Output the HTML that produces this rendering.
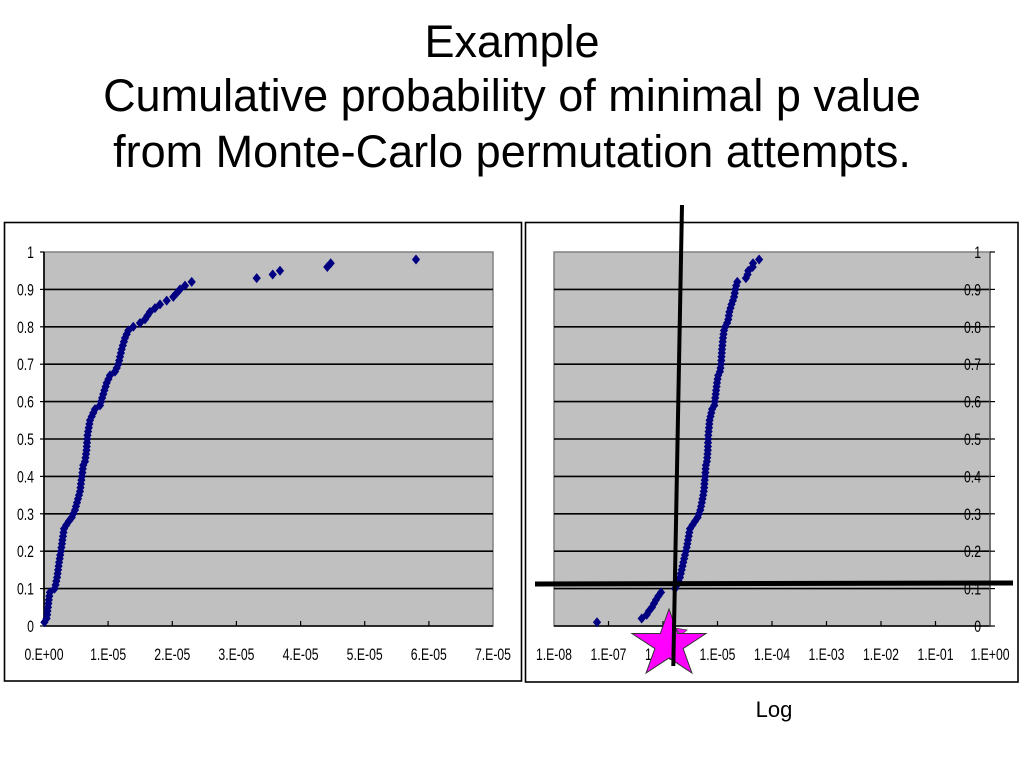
<!DOCTYPE html>
<html>
<head>
<meta charset="utf-8">
<style>
html,body{margin:0;padding:0;background:#fff;}
svg{display:block;}
</style>
</head>
<body>
<svg width="1024" height="768" viewBox="0 0 1024 768" xmlns="http://www.w3.org/2000/svg">
<defs>
<marker id="d" markerUnits="userSpaceOnUse" markerWidth="9" markerHeight="10" refX="4" refY="4.5" viewBox="0 0 8 9" overflow="visible">
<path d="M4,0 L7.7,4.5 L4,9 L0.3,4.5Z" fill="#000080"/>
</marker>
</defs>
<rect width="1024" height="768" fill="#fff"/>

<!-- Title -->
<g font-family="Liberation Sans, Arial, sans-serif" font-size="45" fill="#000" text-anchor="middle">
<text x="512" y="57">Example</text>
<text x="512" y="111">Cumulative probability of minimal p value</text>
<text x="512" y="167">from Monte-Carlo permutation attempts.</text>
</g>

<!-- LEFT CHART -->
<rect x="4.5" y="222.5" width="517" height="458.5" fill="#fff" stroke="#000" stroke-width="1.6"/>
<rect x="44" y="252" width="449" height="374" fill="#c0c0c0" stroke="#808080" stroke-width="1.5"/>
<g stroke="#000" stroke-width="1.6">
<line x1="44" y1="289.4" x2="493" y2="289.4"/>
<line x1="44" y1="326.8" x2="493" y2="326.8"/>
<line x1="44" y1="364.2" x2="493" y2="364.2"/>
<line x1="44" y1="401.6" x2="493" y2="401.6"/>
<line x1="44" y1="439" x2="493" y2="439"/>
<line x1="44" y1="476.4" x2="493" y2="476.4"/>
<line x1="44" y1="513.8" x2="493" y2="513.8"/>
<line x1="44" y1="551.2" x2="493" y2="551.2"/>
<line x1="44" y1="588.6" x2="493" y2="588.6"/>
<line x1="44" y1="626" x2="493" y2="626"/>
<line x1="44" y1="252" x2="44" y2="626"/>
</g>
<g stroke="#000" stroke-width="1.2">
<line x1="40" y1="252" x2="44" y2="252"/>
<line x1="40" y1="289.4" x2="44" y2="289.4"/>
<line x1="40" y1="326.8" x2="44" y2="326.8"/>
<line x1="40" y1="364.2" x2="44" y2="364.2"/>
<line x1="40" y1="401.6" x2="44" y2="401.6"/>
<line x1="40" y1="439" x2="44" y2="439"/>
<line x1="40" y1="476.4" x2="44" y2="476.4"/>
<line x1="40" y1="513.8" x2="44" y2="513.8"/>
<line x1="40" y1="551.2" x2="44" y2="551.2"/>
<line x1="40" y1="588.6" x2="44" y2="588.6"/>
<line x1="40" y1="626" x2="44" y2="626"/>
<line x1="108.1" y1="621" x2="108.1" y2="626"/>
<line x1="172.3" y1="621" x2="172.3" y2="626"/>
<line x1="236.4" y1="621" x2="236.4" y2="626"/>
<line x1="300.6" y1="621" x2="300.6" y2="626"/>
<line x1="364.7" y1="621" x2="364.7" y2="626"/>
<line x1="428.9" y1="621" x2="428.9" y2="626"/>
</g>
<g transform="scale(0.72 1)" font-family="Liberation Sans, Arial, sans-serif" font-size="17" fill="#000">
<g text-anchor="end">
<text x="47.2" y="258">1</text>
<text x="47.2" y="295.4">0.9</text>
<text x="47.2" y="332.8">0.8</text>
<text x="47.2" y="370.2">0.7</text>
<text x="47.2" y="407.6">0.6</text>
<text x="47.2" y="445">0.5</text>
<text x="47.2" y="482.4">0.4</text>
<text x="47.2" y="519.8">0.3</text>
<text x="47.2" y="557.2">0.2</text>
<text x="47.2" y="594.6">0.1</text>
<text x="47.2" y="632">0</text>
</g>
<g text-anchor="middle">
<text x="61.1" y="660">0.E+00</text>
<text x="150.2" y="660">1.E-05</text>
<text x="239.3" y="660">2.E-05</text>
<text x="328.4" y="660">3.E-05</text>
<text x="417.5" y="660">4.E-05</text>
<text x="506.5" y="660">5.E-05</text>
<text x="595.6" y="660">6.E-05</text>
<text x="684.7" y="660">7.E-05</text>
</g>
</g>
<polyline fill="none" stroke="none" marker-start="url(#d)" marker-mid="url(#d)" marker-end="url(#d)" points="
44.4,622.26 46.6,618.52 47.2,614.78 47.5,611.04 48.0,607.3 48.4,603.56 48.8,599.82 49.3,596.08 49.9,592.34 54.6,588.6
55.6,584.86 56.3,581.12 57.1,577.38 57.6,573.64 58.1,569.9 58.6,566.16 59.1,562.42 59.7,558.68 60.2,554.94 60.9,551.2
61.4,547.46 62.0,543.72 62.4,539.98 63.0,536.24 63.5,532.5 64.0,528.76 66.3,525.02 68.8,521.28 71.7,517.54 73.35,513.8
75,510.06 76,506.32 77,502.58 78,498.84 79,495.1 80,491.36 80.5,487.62 80.9,483.88 81.4,480.14 81.9,476.4
82.4,472.66 82.8,468.92 83.3,465.18 85,461.44 85.5,457.7 86,453.96 86.5,450.22 86.75,446.48 87,442.74 87.25,439
87.5,435.26 88.1,431.52 88.75,427.78 89.4,424.04 90,420.3 91.7,416.56 93.3,412.82 95,409.08 100,405.34 101.1,401.6
102.2,397.86 103.3,394.12 104.4,390.38 105.6,386.64 106.7,382.9 108.4,379.16 110,375.42 115,371.68 116.7,367.94 118.3,364.2
119.2,360.46 120,356.72 120.9,352.98 121.7,349.24 122.8,345.5 123.9,341.76 125,338.02 126.7,334.28 128.3,330.54 133.3,326.8
140,323.06 145,319.32 147.5,315.58 150,311.84 155,308.1 160,304.36 166.7,300.62 173.3,296.88 176.7,293.14 180,289.4
185,285.66 191.7,281.92 256.7,278.18 272.7,274.44 280,270.7 327.3,266.96 330.7,263.22 416,259.48"/>

<!-- RIGHT CHART -->
<rect x="525.5" y="222.5" width="492.5" height="459.5" fill="#fff" stroke="#000" stroke-width="1.6"/>
<rect x="554" y="252" width="436" height="374" fill="#c0c0c0" stroke="#808080" stroke-width="1.5"/>
<g transform="scale(0.72 1)" font-family="Liberation Sans, Arial, sans-serif" font-size="17" fill="#000">
<g text-anchor="end">
<text x="1362.5" y="258">1</text>
<text x="1362.5" y="295.4">0.9</text>
<text x="1362.5" y="332.8">0.8</text>
<text x="1362.5" y="370.2">0.7</text>
<text x="1362.5" y="407.6">0.6</text>
<text x="1362.5" y="445">0.5</text>
<text x="1362.5" y="482.4">0.4</text>
<text x="1362.5" y="519.8">0.3</text>
<text x="1362.5" y="557.2">0.2</text>
<text x="1362.5" y="594.6">0.1</text>
<text x="1362.5" y="632">0</text>
</g>
<g text-anchor="middle">
<text x="769.4" y="660">1.E-08</text>
<text x="845.1" y="660">1.E-07</text>
<text x="920.8" y="660">1.E-06</text>
<text x="996.5" y="660">1.E-05</text>
<text x="1072.2" y="660">1.E-04</text>
<text x="1147.9" y="660">1.E-03</text>
<text x="1223.6" y="660">1.E-02</text>
<text x="1299.3" y="660">1.E-01</text>
<text x="1375" y="660">1.E+00</text>
</g>
</g>
<g stroke="#000" stroke-width="1.6">
<line x1="554" y1="289.4" x2="990" y2="289.4"/>
<line x1="554" y1="326.8" x2="990" y2="326.8"/>
<line x1="554" y1="364.2" x2="990" y2="364.2"/>
<line x1="554" y1="401.6" x2="990" y2="401.6"/>
<line x1="554" y1="439" x2="990" y2="439"/>
<line x1="554" y1="476.4" x2="990" y2="476.4"/>
<line x1="554" y1="513.8" x2="990" y2="513.8"/>
<line x1="554" y1="551.2" x2="990" y2="551.2"/>
<line x1="554" y1="588.6" x2="990" y2="588.6"/>
<line x1="554" y1="626" x2="990" y2="626"/>
</g>
<line x1="990" y1="252" x2="990" y2="626" stroke="#606060" stroke-width="1.5"/>
<g stroke="#000" stroke-width="1.2">
<line x1="990" y1="252" x2="995" y2="252"/>
<line x1="990" y1="289.4" x2="995" y2="289.4"/>
<line x1="990" y1="326.8" x2="995" y2="326.8"/>
<line x1="990" y1="364.2" x2="995" y2="364.2"/>
<line x1="990" y1="401.6" x2="995" y2="401.6"/>
<line x1="990" y1="439" x2="995" y2="439"/>
<line x1="990" y1="476.4" x2="995" y2="476.4"/>
<line x1="990" y1="513.8" x2="995" y2="513.8"/>
<line x1="990" y1="551.2" x2="995" y2="551.2"/>
<line x1="990" y1="588.6" x2="995" y2="588.6"/>
<line x1="990" y1="626" x2="995" y2="626"/>
<line x1="608.5" y1="621" x2="608.5" y2="626"/>
<line x1="663" y1="621" x2="663" y2="626"/>
<line x1="717.5" y1="621" x2="717.5" y2="626"/>
<line x1="772" y1="621" x2="772" y2="626"/>
<line x1="826.5" y1="621" x2="826.5" y2="626"/>
<line x1="881" y1="621" x2="881" y2="626"/>
<line x1="935.5" y1="621" x2="935.5" y2="626"/>
</g>
<polyline fill="none" stroke="none" marker-start="url(#d)" marker-mid="url(#d)" marker-end="url(#d)" points="
597,622.26 641.7,618.52 646.7,614.78 649,611.04 652,607.3 654,603.56 656,599.82 658.3,596.08 661,592.34 675,588.6
677,584.86 678.5,581.12 680,577.38 680.8,573.64 681.7,569.9 682.5,566.16 683.3,562.42 684.2,558.68 685,554.94 685.9,551.2
686.7,547.46 687.4,543.72 688,539.98 688.7,536.24 689.3,532.5 690,528.76 692.5,525.02 695,521.28 697.6,517.54 699.0,513.8
700.3,510.06 701.1,506.32 701.8,502.58 702.5,498.84 703.2,495.1 703.8,491.36 704.2,487.62 704.4,483.88 704.7,480.14 705.1,476.4
705.4,472.66 705.6,468.92 705.9,465.18 706.9,461.44 707.2,457.7 707.5,453.96 707.8,450.22 707.9,446.48 708.0,442.74 708.2,439
708.3,435.26 708.6,431.52 709.0,427.78 709.3,424.04 709.6,420.3 710.5,416.56 711.3,412.82 712.1,409.08 714.3,405.34 714.8,401.6
715.2,397.86 715.7,394.12 716.1,390.38 716.6,386.64 717.0,382.9 717.6,379.16 718.2,375.42 719.9,371.68 720.5,367.94 721.0,364.2
721.3,360.46 721.5,356.72 721.8,352.98 722.0,349.24 722.4,345.5 722.7,341.76 723.0,338.02 723.5,334.28 724.0,330.54 725.3,326.8
727.1,323.06 728.3,319.32 728.8,315.58 729.4,311.84 730.5,308.1 731.5,304.36 732.9,300.62 734.1,296.88 734.7,293.14 735.3,289.4
736.2,285.66 737.3,281.92 745.9,278.18 747.6,274.44 748.3,270.7 752.7,266.96 753.0,263.22 759.1,259.48"/>

<!-- small magenta fragment -->
<polygon points="675,628 687,630 681,635" fill="#ff00ff" stroke="#444" stroke-width="0.8"/>
<!-- Star -->
<polygon points="669,609 677.7,633.5 706,633.5 683.1,648.6 691.9,673 669,657.9 646.1,673 654.9,648.6 632,633.5 660.3,633.5" fill="#ff00ff" stroke="#333" stroke-width="1"/>

<!-- Thick annotation lines -->
<line x1="535" y1="584" x2="1013" y2="583" stroke="#000" stroke-width="5"/>
<line x1="682" y1="205" x2="673.3" y2="666" stroke="#000" stroke-width="4"/>

<text x="774" y="717" font-family="Liberation Sans, Arial, sans-serif" font-size="22" text-anchor="middle" fill="#000">Log</text>
</svg>
</body>
</html>
